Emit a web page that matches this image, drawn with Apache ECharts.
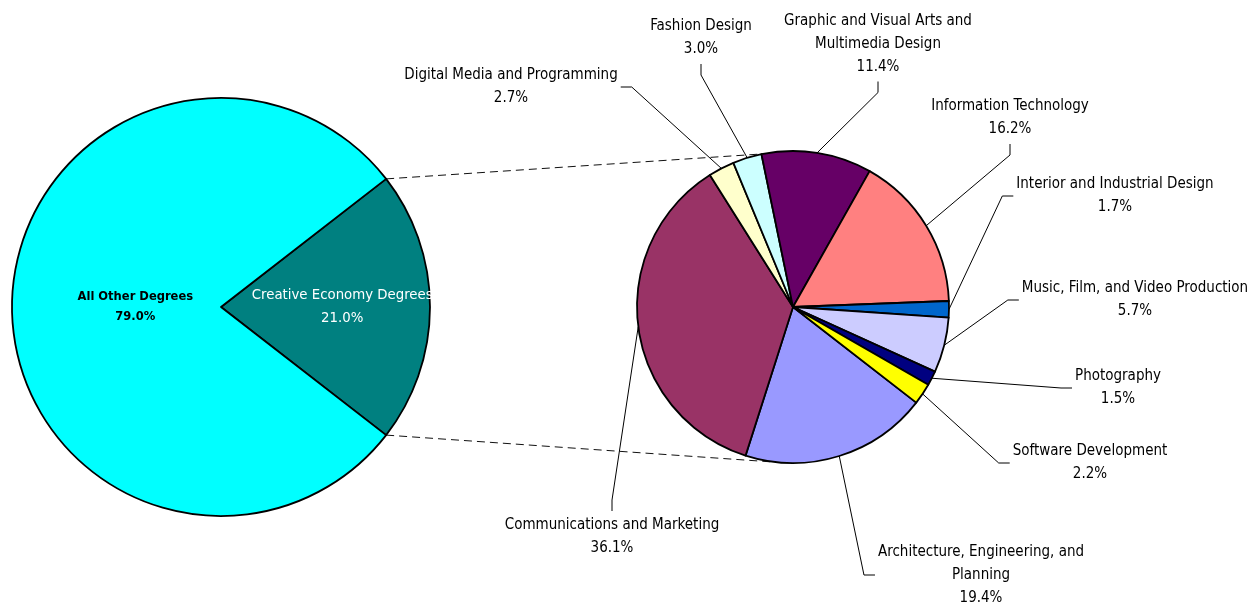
<!DOCTYPE html>
<html>
<head>
<meta charset="utf-8">
<title>Creative Economy Degrees</title>
<script src="https://cdn.jsdelivr.net/npm/echarts@6/dist/echarts.min.js"></script>
<style>
  html, body { margin: 0; padding: 0; background: #fff; }
  #chart { width: 1252px; height: 604px; }
</style>
</head>
<body>
<div id="chart"></div>
<script>
// Share of all degrees
const mainCategories = ['Creative Economy Degrees', 'All Other Degrees'];
const mainValues = [21.0, 79.0];
const mainColors = ['#008080', '#00FFFF'];

// Breakdown of creative economy degrees (clockwise from the split edge)
const detailCategories = [
  'Architecture, Engineering, and\nPlanning',
  'Communications and Marketing',
  'Digital Media and Programming',
  'Fashion Design',
  'Graphic and Visual Arts and\nMultimedia Design',
  'Information Technology',
  'Interior and Industrial Design',
  'Music, Film, and Video Production',
  'Photography',
  'Software Development'
];
const detailValues = [19.4, 36.1, 2.7, 3.0, 11.4, 16.2, 1.7, 5.7, 1.5, 2.2];
const detailColors = ['#9999FF', '#993366', '#FFFFCC', '#CCFFFF', '#660066',
                      '#FF8080', '#0066CC', '#CCCCFF', '#000080', '#FFFF00'];

// Layout of the two pies (pixels)
const MAIN = { cx: 221, cy: 307, r: 209 };
const DETAIL = { cx: 793, cy: 307, r: 156 };

// Label block centres for the detail pie and the side of the block that the leader line meets
const detailLabelSpots = [
  { x: 981, y: 575, side: 'left' },
  { x: 612, y: 537, side: 'top' },
  { x: 511, y: 87, side: 'right' },
  { x: 701, y: 38, side: 'bottom' },
  { x: 878, y: 44, side: 'bottom' },
  { x: 1010, y: 118, side: 'bottom' },
  { x: 1115, y: 196, side: 'left' },
  { x: 1135, y: 300, side: 'left' },
  { x: 1118, y: 388, side: 'left' },
  { x: 1090, y: 463, side: 'left' }
];
// Inside label distance from the centre, as a fraction of the radius
const mainLabelDepth = [0.58, 0.41];

const FONT = '"Liberation Sans Narrow", "Arial Narrow", "DejaVu Sans Condensed", "Liberation Sans", Arial, sans-serif';
const STUB = 11;

const creativeHalf = mainValues[0] / (mainValues[0] + mainValues[1]) * 180;

function midAngles(values, start) {
  const total = values.reduce((a, b) => a + b, 0);
  let acc = start;
  return values.map(v => {
    const span = v / total * 360;
    const mid = acc - span / 2;
    acc -= span;
    return mid;
  });
}
function onCircle(c, r, deg) {
  const a = deg * Math.PI / 180;
  return [c.cx + r * Math.cos(a), c.cy - r * Math.sin(a)];
}

const mainMid = midAngles(mainValues, creativeHalf);
const detailMid = midAngles(detailValues, -creativeHalf);

const pctText = v => v.toFixed(1) + '%';

const chart = echarts.init(document.getElementById('chart'), null, { renderer: 'canvas' });

// Connector lines from the split slice to the detail pie
const topFrom = onCircle(MAIN, MAIN.r, creativeHalf);
const botFrom = onCircle(MAIN, MAIN.r, -creativeHalf);
const topTo = onCircle(DETAIL, DETAIL.r, 101);
const botTo = onCircle(DETAIL, DETAIL.r, -94);

const option = {
  backgroundColor: '#fff',
  animation: false,
  graphic: [
    { type: 'line', z: 0, shape: { x1: topFrom[0], y1: topFrom[1], x2: topTo[0], y2: topTo[1] },
      style: { stroke: '#111', lineWidth: 1, lineDash: [8, 5] } },
    { type: 'line', z: 0, shape: { x1: botFrom[0], y1: botFrom[1], x2: botTo[0], y2: botTo[1] },
      style: { stroke: '#111', lineWidth: 1, lineDash: [8, 5] } }
  ],
  series: [
    {
      type: 'pie',
      center: [MAIN.cx, MAIN.cy],
      radius: [0, MAIN.r],
      startAngle: creativeHalf,
      clockwise: true,
      avoidLabelOverlap: false,
      silent: true,
      itemStyle: { borderColor: '#000', borderWidth: 1.8 },
      label: {
        show: true,
        position: 'inside',
        fontFamily: FONT,
        fontSize: 14.8,
        lineHeight: 23,
        align: 'center',
        formatter: p => p.name + '\n' + pctText(p.value)
      },
      labelLine: { show: false },
      labelLayout: params => {
        const i = params.dataIndex;
        const pt = onCircle(MAIN, MAIN.r * mainLabelDepth[i], mainMid[i]);
        return { x: pt[0], y: pt[1], align: 'center', verticalAlign: 'middle' };
      },
      data: mainCategories.map((name, i) => ({
        name,
        value: mainValues[i],
        itemStyle: { color: mainColors[i] },
        label: i === 0
          ? { color: '#fff', fontWeight: 'normal' }
          : { color: '#000', fontWeight: 'bold', fontSize: 12.8, lineHeight: 20 }
      }))
    },
    {
      type: 'pie',
      center: [DETAIL.cx, DETAIL.cy],
      radius: [0, DETAIL.r],
      startAngle: -creativeHalf,
      clockwise: true,
      avoidLabelOverlap: false,
      silent: true,
      itemStyle: { borderColor: '#000', borderWidth: 1.8 },
      label: {
        show: true,
        position: 'outside',
        color: '#000',
        fontFamily: FONT,
        fontSize: 15,
        lineHeight: 23,
        align: 'center',
        padding: [3, 3],
        formatter: p => p.name + '\n' + pctText(p.value)
      },
      labelLine: { show: true, lineStyle: { color: '#000', width: 1 } },
      labelLayout: params => {
        const i = params.dataIndex;
        const s = detailLabelSpots[i];
        const w = params.labelRect.width, h = params.labelRect.height;
        const start = (params.labelLinePoints && params.labelLinePoints[0])
          || onCircle(DETAIL, DETAIL.r, detailMid[i]);
        let end, elbow;
        if (s.side === 'left') {
          end = [s.x - w / 2, s.y]; elbow = [end[0] - STUB, s.y];
        } else if (s.side === 'right') {
          end = [s.x + w / 2, s.y]; elbow = [end[0] + STUB, s.y];
        } else if (s.side === 'top') {
          end = [s.x, s.y - h / 2]; elbow = [s.x, end[1] - STUB];
        } else {
          end = [s.x, s.y + h / 2]; elbow = [s.x, end[1] + STUB];
        }
        return {
          x: s.x, y: s.y, align: 'center', verticalAlign: 'middle',
          labelLinePoints: [start, elbow, end]
        };
      },
      data: detailCategories.map((name, i) => ({
        name,
        value: detailValues[i],
        itemStyle: { color: detailColors[i] }
      }))
    }
  ]
};

chart.setOption(option);
</script>
</body>
</html>
